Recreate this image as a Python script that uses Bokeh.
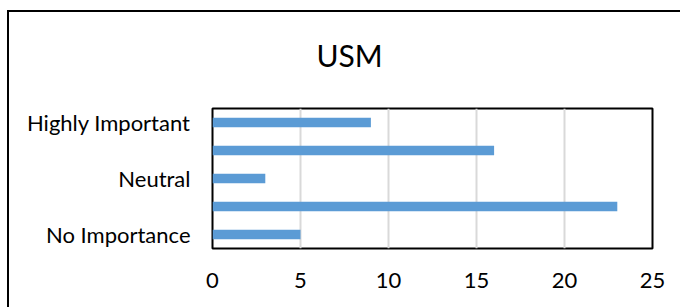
from bokeh.plotting import figure
from bokeh.models import Range1d, FixedTicker, Title, ColumnDataSource
from bokeh.embed import file_html
from bokeh.resources import INLINE

# Data (bottom to top as drawn)
categories = ["No Importance", "Less Important", "Neutral", "Important", "Highly Important"]
values = [5, 23, 3, 16, 9]
labelled = ["No Importance", "Neutral", "Highly Important"]   # labels Excel shows
x_ticks = [0, 5, 10, 15, 20, 25]
title_text = "USM"

FONT = "Lato"

positions = [i + 1 for i in range(len(categories))]
source = ColumnDataSource(dict(pos=positions, cat=categories, val=values))

# chart-area border (top and left edges visible), painted behind a transparent canvas border
chart_border = ("linear-gradient(#000,#000) 0 13px / 100% 2px no-repeat, "
                "linear-gradient(#000,#000) 0 13px / 2px 100% no-repeat, #fff")

p = figure(width=673, height=310, output_backend="svg", toolbar_location=None,
           y_range=Range1d(0.5, len(categories) + 0.5),
           x_range=Range1d(0, 25),
           min_border_left=205, min_border_right=28, min_border_top=111, min_border_bottom=59,
           styles={"background": chart_border, "margin-left": "7px", "margin-top": "-3px"})

p.title = Title(text=title_text, align="left", offset=104, standoff=72,
                text_font=FONT, text_font_size="30px", text_font_style="normal",
                text_color="black")

p.hbar(y="pos", right="val", left=0, height=0.34, source=source,
       fill_color="#5B9BD5", line_color=None)

p.outline_line_color = "black"
p.outline_line_width = 2
p.background_fill_color = "white"
p.border_fill_alpha = 0

p.ygrid.grid_line_color = None
p.xgrid.grid_line_color = "#D9D9D9"
p.xgrid.grid_line_width = 2
p.xaxis.ticker = FixedTicker(ticks=x_ticks)

lab_pos = [positions[categories.index(c)] for c in labelled]
p.yaxis.ticker = FixedTicker(ticks=lab_pos)
p.yaxis.major_label_overrides = {pos: c for pos, c in zip(lab_pos, labelled)}

for ax in (p.xaxis[0], p.yaxis[0]):
    ax.axis_line_color = None
    ax.major_tick_line_color = None
    ax.minor_tick_line_color = None
    ax.major_label_text_font = FONT
    ax.major_label_text_font_size = "22px"
    ax.major_label_text_color = "black"

p.xaxis.major_label_standoff = 18
p.yaxis.major_label_standoff = 16

open("out.html", "w").write(file_html(p, INLINE))
